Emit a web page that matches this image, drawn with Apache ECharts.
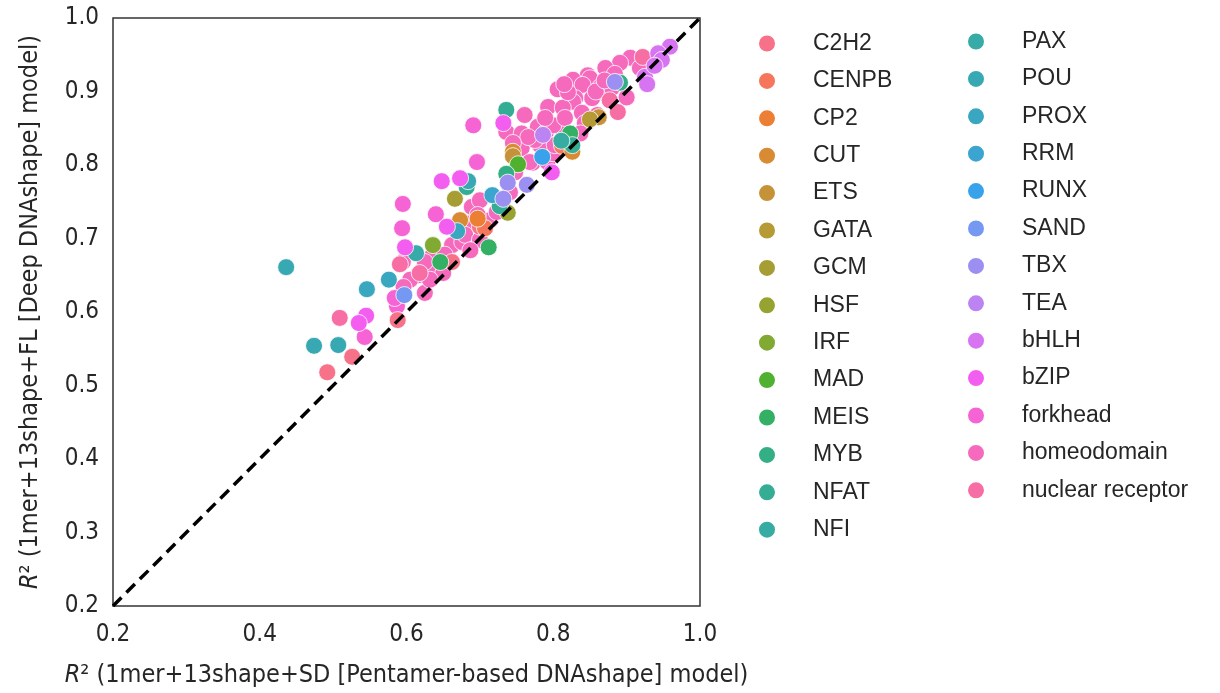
<!DOCTYPE html>
<html><head><meta charset="utf-8">
<script src="https://cdn.jsdelivr.net/npm/echarts@6/dist/echarts.min.js"></script>
<style>html,body{margin:0;padding:0;background:#fff}#c{width:1220px;height:693px}</style>
</head><body><div id="c"></div>
<script>
const families = ["C2H2","CENPB","CP2","CUT","ETS","GATA","GCM","HSF","IRF","MAD","MEIS","MYB","NFAT","NFI",
  "PAX","POU","PROX","RRM","RUNX","SAND","TBX","TEA","bHLH","bZIP","forkhead","homeodomain","nuclear receptor"];
const colors = ["#f77189","#f6765c","#ec7f34","#d88b32","#c5923a","#b69a35","#a69e34","#97a331","#80aa31","#50b131",
  "#33b064","#34ae84","#35ad95","#36aca2","#37aba8","#38a9b3","#3aa7c0","#3ba5d0","#3aa2ea","#7599f3",
  "#9b90f1","#bb84f2","#d774f2","#f35ef0","#f563d4","#f56abc","#f66ea4"];
const xTicks = [0.2,0.4,0.6,0.8,1.0];
const yTicks = [0.2,0.3,0.4,0.5,0.6,0.7,0.8,0.9,1.0];

const c2h2 = [[0.492,0.518],[0.526,0.539],[0.588,0.589],[0.662,0.668],[0.700,0.716]];
const cenpb = [[0.707,0.714],[0.812,0.826]];
const cp2 = [[0.697,0.727]];
const cut = [[0.673,0.725],[0.745,0.818],[0.826,0.818]];
const ets = [[0.862,0.865],[0.745,0.812]];
const gata = [[0.850,0.862]];
const gcm = [[0.666,0.754]];
const hsf = [[0.738,0.735]];
const irf = [[0.636,0.691]];
const mad = [[0.752,0.801]];
const meis = [[0.712,0.688],[0.823,0.843],[0.646,0.668]];
const myb = [[0.736,0.788],[0.891,0.912]];
const nfat = [[0.736,0.875],[0.682,0.770],[0.826,0.827],[0.727,0.744]];
const nfi = [[0.811,0.833]];
const pax = [[0.613,0.680]];
const pou = [[0.436,0.661],[0.684,0.778],[0.474,0.554],[0.507,0.555]];
const prox = [[0.546,0.631],[0.576,0.644],[0.669,0.710]];
const rrm = [[0.717,0.759]];
const runx = [[0.785,0.811]];
const sand = [[0.597,0.623]];
const tbx = [[0.884,0.913],[0.738,0.776],[0.764,0.773],[0.732,0.754]];
const tea = [[0.786,0.841]];
const bhlh = [[0.959,0.961],[0.943,0.952],[0.948,0.943],[0.925,0.920],[0.928,0.910],[0.938,0.935]];
const bzip = [[0.648,0.778],[0.673,0.782],[0.732,0.857],[0.655,0.716],[0.798,0.790],[0.545,0.595],[0.535,0.585],[0.598,0.688]];
const forkhead = [[0.595,0.747],[0.594,0.714],[0.696,0.804],[0.640,0.733],[0.543,0.566],[0.587,0.608],[0.691,0.854],[0.584,0.619]];
const homeodomain = [[0.905,0.946],[0.891,0.939],[0.871,0.932],[0.847,0.922],[0.850,0.918],[0.827,0.916],[0.806,0.903],
  [0.840,0.909],[0.864,0.906],[0.900,0.892],[0.853,0.891],[0.830,0.891],[0.871,0.898],[0.827,0.886],[0.793,0.879],
  [0.813,0.878],[0.839,0.871],[0.860,0.868],[0.761,0.868],[0.736,0.845],[0.757,0.843],[0.779,0.852],[0.809,0.852],
  [0.790,0.845],[0.800,0.854],[0.843,0.857],[0.837,0.843],[0.757,0.823],[0.772,0.803],[0.792,0.804],[0.800,0.816],
  [0.689,0.743],[0.700,0.752],[0.689,0.721],[0.662,0.691],[0.676,0.695],[0.636,0.678],[0.595,0.668],[0.635,0.660],
  [0.650,0.653],[0.625,0.626],[0.616,0.650],[0.714,0.725],[0.723,0.736],[0.741,0.763],[0.748,0.790],[0.768,0.804],
  [0.782,0.827],[0.789,0.864],[0.816,0.864],[0.884,0.924],[0.918,0.932],[0.880,0.905],[0.820,0.899],[0.697,0.732],
  [0.680,0.705],[0.700,0.698],[0.652,0.678],[0.625,0.668],[0.605,0.644],[0.632,0.644],[0.687,0.684],[0.802,0.827],
  [0.775,0.834],[0.586,0.616],[0.596,0.634],[0.858,0.900],[0.815,0.910],[0.870,0.915],[0.766,0.838],[0.745,0.830]];
const nuclearReceptor = [[0.591,0.665],[0.509,0.592],[0.877,0.888],[0.888,0.872],[0.922,0.947],[0.618,0.653]];

const familyData = [c2h2,cenpb,cp2,cut,ets,gata,gcm,hsf,irf,mad,meis,myb,nfat,nfi,pax,pou,prox,rrm,runx,sand,tbx,tea,
  bhlh,bzip,forkhead,homeodomain,nuclearReceptor];
const diagonal = [[0.2,0.2],[1.0,1.0]];

// draw pink families first so the other colours sit on top
const drawOrder = [25,24,26].concat(families.map((_, i) => i).filter(i => i !== 25 && i !== 24 && i !== 26));
const series = drawOrder.map(i => ({
  type: 'scatter', name: families[i], data: familyData[i], symbol: 'circle', symbolSize: 17,
  itemStyle: { color: colors[i], borderColor: '#ffffff', borderWidth: 0.8, opacity: 1 },
  emphasis: { disabled: true }, z: 2
}));
series.push({
  type: 'line', data: diagonal, symbol: 'none', silent: true, z: 5,
  lineStyle: { color: '#000', width: 3.5, type: [12, 7] }
});

const legendCommon = {
  orient: 'vertical', icon: 'circle', itemWidth: 18, itemHeight: 18, itemGap: 14.4,
  textStyle: { fontFamily: 'Liberation Sans, Arial, sans-serif', fontSize: 23, color: '#262626', padding: [0,0,0,32] },
  selectedMode: false
};
const axisFont = 'DejaVu Sans Condensed, Liberation Sans Narrow, sans-serif';
const richI = { i: { fontStyle: 'italic', fontFamily: axisFont, fontSize: 25, color: '#262626' } };
const chart = echarts.init(document.getElementById('c'), null, { renderer: 'canvas' });
chart.setOption({
  animation: false,
  color: colors,
  grid: { left: 113, right: 520, top: 18, bottom: 87, show: true, borderColor: '#333', borderWidth: 1.5, backgroundColor: 'transparent' },
  legend: [
    Object.assign({ data: families.slice(0, 14), left: 752, top: 27 }, legendCommon),
    Object.assign({ data: families.slice(14), left: 961, top: 25 }, legendCommon)
  ],
  xAxis: {
    type: 'value', min: 0.2, max: 1.0, interval: 0.2,
    axisLine: { show: false }, axisTick: { show: false }, splitLine: { show: false },
    axisLabel: { fontFamily: axisFont, fontSize: 24, color: '#262626', margin: 17, formatter: v => v.toFixed(1) },
    name: '{i|R}² (1mer+13shape+SD [Pentamer-based DNAshape] model)', nameLocation: 'middle', nameGap: 57,
    nameTextStyle: { fontFamily: axisFont, fontSize: 25, color: '#262626', rich: richI }
  },
  yAxis: {
    type: 'value', min: 0.2, max: 1.0, interval: 0.1,
    axisLine: { show: false }, axisTick: { show: false }, splitLine: { show: false },
    axisLabel: { fontFamily: axisFont, fontSize: 24, color: '#262626', margin: 14, formatter: v => v.toFixed(1) },
    name: '{i|R}² (1mer+13shape+FL [Deep DNAshape] model)', nameLocation: 'middle', nameGap: 70, nameRotate: 90,
    nameTextStyle: { fontFamily: axisFont, fontSize: 25, color: '#262626', rich: richI }
  },
  series: series
});
</script></body></html>
